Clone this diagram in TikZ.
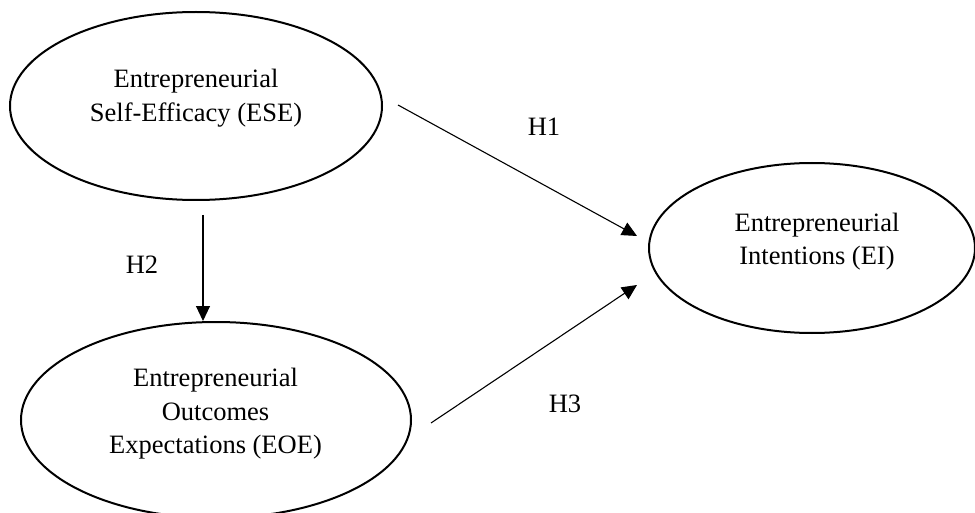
\documentclass[tikz,border=0pt]{standalone}
\usepackage{fontspec}
\setmainfont{Liberation Serif}
\usetikzlibrary{shapes.geometric,arrows.meta,calc}
\tikzset{
  construct/.style={draw, ellipse, line width=2pt, inner sep=0pt},
  ctext/.style={align=center, inner sep=0pt, font=\fontsize{26.5}{33.5}\selectfont},
  hlabel/.style={anchor=base, inner sep=0pt, font=\fontsize{26.5}{33.5}\selectfont},
  path arrow/.style={line width=1.1pt, -{Triangle[length=15pt,width=14pt]}}
}
\begin{document}
\begin{tikzpicture}[x=1pt,y=-1pt]
\useasboundingbox (0,0) rectangle (975,513);
\clip (0,0) rectangle (975,513);
\fill[white] (0,0) rectangle (975,513);
% constructs
\node[construct, minimum width=372pt, minimum height=188pt] (ese) at (196,106) {};
\node[construct, minimum width=326pt, minimum height=170pt] (ei) at (812,248) {};
\node[construct, minimum width=390pt, minimum height=196pt] (eoe) at (216,420) {};
% texts
\node[ctext] (esetext) at (196,98) {Entrepreneurial\\Self-Efficacy (ESE)};
\node[ctext] (eitext) at (817,241.5) {Entrepreneurial\\Intentions (EI)};
\node[ctext] (eoetext) at (215.5,414) {Entrepreneurial\\Outcomes\\Expectations (EOE)};
% connector end points
\coordinate (h1s) at ($(ese.east)+(15,-1)$);
\coordinate (h1e) at ($(ei.west)+(-11,-12)$);
\coordinate (h3s) at ($(eoe.east)+(19,3)$);
\coordinate (h3e) at ($(ei.west)+(-11,37)$);
\coordinate (h2s) at ($(ese.south)+(7,14)$);
% connectors
\draw[path arrow] (h1s) -- (h1e);
\draw[path arrow] (h3s) -- (h3e);
\draw[path arrow] (h2s) -- (h2s |- eoe.north);
% labels
\node[hlabel] (h1) at (544,136) {H1};
\node[hlabel] (h2) at (142,273) {H2};
\node[hlabel] (h3) at (565,412) {H3};
\end{tikzpicture}
\end{document}
